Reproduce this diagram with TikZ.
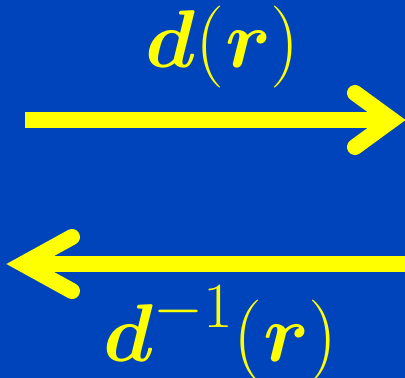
\RequirePackage{fix-cm}
\documentclass[tikz,border=0pt]{standalone}
\usepackage{amsmath}
\usepackage{graphicx}
\definecolor{bg}{RGB}{0,68,187}
\definecolor{yel}{RGB}{255,255,0}
\tikzset{
  shaft/.style={yel, line width=16pt, line cap=butt},
  wing/.style={yel, line width=16pt, line cap=round, line join=miter},
  lab/.style={text=yel, inner sep=0pt, font=\fontsize{82}{98}\selectfont}
}
\begin{document}
\begin{tikzpicture}[x=1pt,y=-1pt]
\fill[bg] (0,0) rectangle (405,378);
\useasboundingbox (0,0) rectangle (405,378);
% top arrow
\coordinate (a1) at (25,120);
\coordinate (a2) at (392,120);
\coordinate (w1) at (355,93);
\coordinate (w2) at (355,147);
\draw[shaft] (a1) -- (a2);
\draw[wing] (w1) -- (a2) -- (w2);
% bottom arrow
\coordinate (b1) at (405,264);
\coordinate (b2) at (23,264);
\coordinate (v1) at (72,237);
\coordinate (v2) at (72,291);
\draw[shaft] (b1) -- (b2);
\draw[wing] (v1) -- (b2) -- (v2);
% labels
\node[lab] (top) at (223,47) {$\boldsymbol{d}(\boldsymbol{r})$};
\node[lab] (bot) at (221,334) {$\boldsymbol{d}^{\scalebox{1.12}{$\scriptstyle -1$}}(\boldsymbol{r})$};
\end{tikzpicture}
\end{document}
